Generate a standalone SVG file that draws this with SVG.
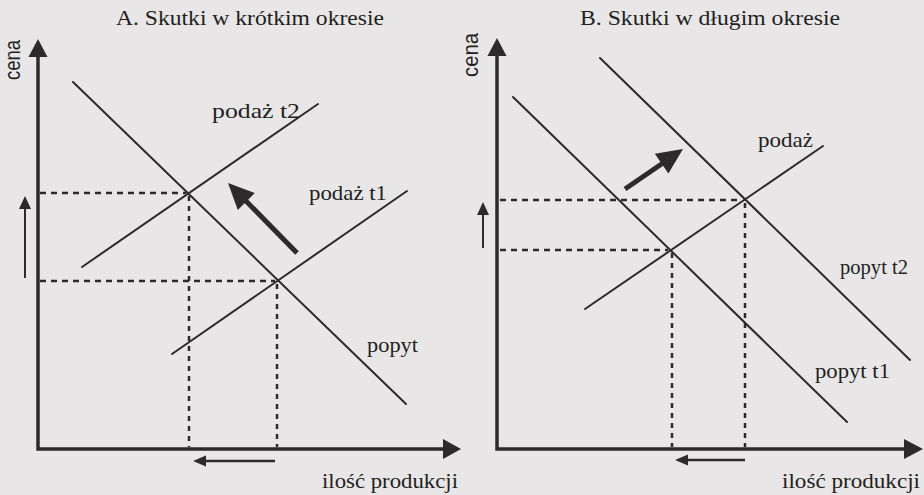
<svg xmlns="http://www.w3.org/2000/svg" width="924" height="495" viewBox="0 0 924 495">
<style>
.bg{fill:#e8e6e7}
.t{font-family:"Liberation Serif","Times New Roman",serif;font-size:21px;fill:#231f20}
.s{font-family:"Liberation Sans",Arial,sans-serif;font-size:18px;fill:#231f20}
.ax{stroke:#2e2a2b;stroke-width:3.5;fill:none}
.cv{stroke:#2e2a2b;stroke-width:2;fill:none;stroke-linecap:round}
.dh{stroke:#2e2a2b;stroke-width:2.5;stroke-dasharray:6 5;fill:none}
.dv{stroke:#2e2a2b;stroke-width:2.5;stroke-dasharray:5 5;fill:none}
.ar{stroke:#2e2a2b;fill:none}
.hd{fill:#2e2a2b}
</style>
<rect class="bg" x="0" y="0" width="924" height="495"/>

<g id="panelA">
  <text class="t" x="116" y="25" textLength="268" lengthAdjust="spacingAndGlyphs">A. Skutki w krótkim okresie</text>
  <g id="axesA">
    <path class="ax" d="M38,56 L38,449 L444,449"/>
    <polygon class="hd" points="38,39 47.5,57 28.5,57"/>
    <polygon class="hd" points="461,449 443,439 443,459"/>
    <text class="s" transform="translate(20,80) scale(1.25,1) rotate(-90)" textLength="40" lengthAdjust="spacingAndGlyphs">cena</text>
    <text class="t" x="322" y="488" textLength="136" lengthAdjust="spacingAndGlyphs">ilość produkcji</text>
  </g>
  <g id="popytA">
    <line class="cv" x1="73" y1="82" x2="406" y2="404"/>
    <text class="t" x="367" y="352" textLength="51" lengthAdjust="spacingAndGlyphs">popyt</text>
  </g>
  <g id="podazT2">
    <line class="cv" x1="82" y1="267" x2="318" y2="104"/>
    <text class="t" x="212" y="118" textLength="88" lengthAdjust="spacingAndGlyphs">podaż t2</text>
  </g>
  <g id="podazT1">
    <line class="cv" x1="172" y1="354" x2="407" y2="191"/>
    <text class="t" x="309" y="200" textLength="78" lengthAdjust="spacingAndGlyphs">podaż t1</text>
  </g>
</g>

<g id="panelB">
  <text class="t" x="580" y="25" textLength="260" lengthAdjust="spacingAndGlyphs">B. Skutki w długim okresie</text>
  <g id="axesB">
    <path class="ax" d="M497,55 L497,449 L905,449"/>
    <polygon class="hd" points="497,38 506.5,56 487.5,56"/>
    <polygon class="hd" points="923,449 904,439 904,459"/>
    <text class="s" transform="translate(478,77) scale(1.25,1) rotate(-90)" textLength="44" lengthAdjust="spacingAndGlyphs">cena</text>
    <text class="t" x="782" y="488" textLength="138" lengthAdjust="spacingAndGlyphs">ilość produkcji</text>
  </g>
  <g id="popytT1">
    <line class="cv" x1="513" y1="97" x2="847" y2="422"/>
    <text class="t" x="815" y="378" textLength="75" lengthAdjust="spacingAndGlyphs">popyt t1</text>
  </g>
  <g id="popytT2">
    <line class="cv" x1="600" y1="58" x2="910" y2="360"/>
    <text class="t" x="840" y="274" textLength="68" lengthAdjust="spacingAndGlyphs">popyt t2</text>
  </g>
  <g id="podazB">
    <line class="cv" x1="585" y1="309" x2="823" y2="146"/>
    <text class="t" x="758" y="147" textLength="55" lengthAdjust="spacingAndGlyphs">podaż</text>
  </g>
</g>

<g id="connectors">
  <line class="dh" x1="40" y1="193" x2="186" y2="193"/>
  <line class="dh" x1="40" y1="281" x2="275" y2="281"/>
  <line class="dv" x1="189" y1="196" x2="189" y2="447"/>
  <line class="dv" x1="277" y1="284" x2="277" y2="447"/>
  <line class="ar" stroke-width="2" x1="25" y1="278" x2="25" y2="206"/>
  <polygon class="hd" points="25,196 31,209 19,209"/>
  <line class="ar" stroke-width="2.5" x1="275" y1="461" x2="204" y2="461"/>
  <polygon class="hd" points="193,461 206,455.5 206,466.5"/>
  <line class="ar" stroke-width="5" x1="297" y1="253" x2="245" y2="200"/>
  <polygon class="hd" points="228,183 254.8,193.1 237.8,209.9"/>
  <line class="dh" x1="500" y1="200" x2="742" y2="200"/>
  <line class="dh" x1="500" y1="250" x2="668" y2="250"/>
  <line class="dv" x1="672" y1="253" x2="672" y2="447"/>
  <line class="dv" x1="745" y1="203" x2="745" y2="447"/>
  <line class="ar" stroke-width="2" x1="483" y1="248" x2="483" y2="212"/>
  <polygon class="hd" points="483,202 489,215 477,215"/>
  <line class="ar" stroke-width="2.5" x1="745" y1="460" x2="686" y2="460"/>
  <polygon class="hd" points="675,460 688,454.5 688,465.5"/>
  <line class="ar" stroke-width="5" x1="625" y1="189" x2="663" y2="163"/>
  <polygon class="hd" points="683,149 668.4,173.6 654.8,153.8"/>
</g>
</svg>
